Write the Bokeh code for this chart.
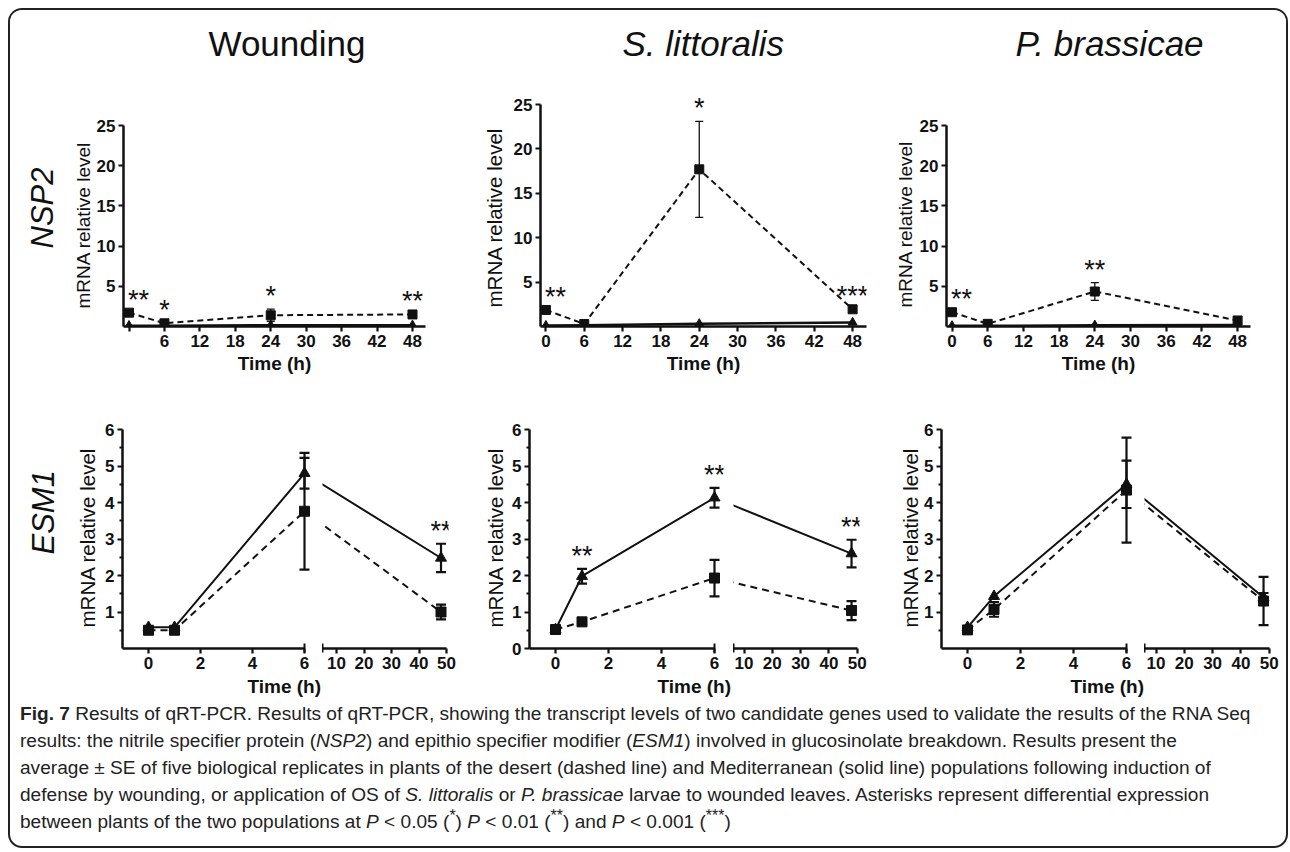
from bokeh.plotting import figure
from bokeh.models import (ColumnDataSource, Whisker, TeeHead, Label, FixedTicker, Range1d, Div, Title)
from bokeh.core.properties import value
from bokeh.layouts import row, column
from bokeh.embed import file_html
from bokeh.resources import INLINE

# ---------------- data ----------------
nsp2_time = [0, 6, 24, 48]
esm1_time = [0, 1, 6, 48]
nsp2_xticks = [0, 6, 12, 18, 24, 30, 36, 42, 48]
nsp2_yticks = [5, 10, 15, 20, 25]
esm1_left_ticks = [0, 2, 4, 6]
esm1_right_ticks = [10, 20, 30, 40, 50]
esm1_minor_y = [0.5, 1.5, 2.5, 3.5, 4.5, 5.5]

treatments = ["Wounding", "S. littoralis", "P. brassicae"]
treatment_styles = ["normal", "italic", "italic"]
genes = ["NSP2", "ESM1"]

# NSP2 - desert (dashed, squares) / Mediterranean (solid, triangles)
wound_nsp2_desert = [1.72, 0.40, 1.40, 1.50]
wound_nsp2_desert_se = [0.0, 0.0, 0.75, 0.0]
wound_nsp2_med = [0.10, 0.10, 0.15, 0.15]
wound_nsp2_sig = ["**", "*", "*", "**"]

slit_nsp2_desert = [1.86, 0.28, 17.7, 1.94]
slit_nsp2_desert_se = [0.0, 0.0, 5.4, 0.0]
slit_nsp2_med = [0.10, 0.15, 0.30, 0.45]
slit_nsp2_sig = ["**", "", "*", "***"]

pbra_nsp2_desert = [1.78, 0.33, 4.35, 0.75]
pbra_nsp2_desert_se = [0.0, 0.0, 1.1, 0.0]
pbra_nsp2_med = [0.08, 0.08, 0.15, 0.20]
pbra_nsp2_sig = ["**", "", "**", ""]

# ESM1
wound_esm1_desert = [0.50, 0.50, 3.76, 1.00]
wound_esm1_desert_se = [0.0, 0.0, 1.60, 0.20]
wound_esm1_med = [0.58, 0.58, 4.80, 2.48]
wound_esm1_med_se = [0.0, 0.0, 0.42, 0.39]
wound_esm1_sig = ["", "", "", "**"]

slit_esm1_desert = [0.52, 0.73, 1.93, 1.04]
slit_esm1_desert_se = [0.0, 0.10, 0.50, 0.26]
slit_esm1_med = [0.52, 1.98, 4.13, 2.60]
slit_esm1_med_se = [0.0, 0.20, 0.27, 0.38]
slit_esm1_sig = ["", "**", "**", "**"]

pbra_esm1_desert = [0.51, 1.07, 4.34, 1.30]
pbra_esm1_desert_se = [0.0, 0.20, 1.44, 0.66]
pbra_esm1_med = [0.58, 1.43, 4.50, 1.40]
pbra_esm1_med_se = [0.0, 0.0, 0.65, 0.12]
pbra_esm1_sig = ["", "", "", ""]

top_data = [
    (wound_nsp2_desert, wound_nsp2_desert_se, wound_nsp2_med, wound_nsp2_sig),
    (slit_nsp2_desert, slit_nsp2_desert_se, slit_nsp2_med, slit_nsp2_sig),
    (pbra_nsp2_desert, pbra_nsp2_desert_se, pbra_nsp2_med, pbra_nsp2_sig),
]
bot_data = [
    (wound_esm1_desert, wound_esm1_desert_se, wound_esm1_med, wound_esm1_med_se, wound_esm1_sig),
    (slit_esm1_desert, slit_esm1_desert_se, slit_esm1_med, slit_esm1_med_se, slit_esm1_sig),
    (pbra_esm1_desert, pbra_esm1_desert_se, pbra_esm1_med, pbra_esm1_med_se, pbra_esm1_sig),
]

# ---------------- layout geometry (page pixels) ----------------
FONT = "Liberation Sans"
INK = "#111111"
HEAD = (10, 75)
ROW1 = (75, 385)
ROW2 = (385, 708)
RIGHT = 1286
TICK_FS = "17px"

title_left = [208, 622, 1015]
title_mid = 43

top_ft, top_fb = 88, 326
top_geo = [
    dict(x0=10, x1=470, fl=123, fr=425, zero=128.5, u=5.906, y25=125, yls=19, ylso=0, ylo=18),
    dict(x0=470, x1=880, fl=540, fr=866, zero=545.4, u=6.39, y25=104, yls=20.5, ylso=9, ylo=19),
    dict(x0=880, x1=RIGHT, fl=946, fr=1250, zero=951.5, u=5.95, y25=125, yls=19, ylso=1, ylo=19),
]
bot_ft, bot_fb = 429, 648
bot_geo = [
    dict(x0=10, x1=470, ya=122, zero=148, u=26.0, le=314, rs=322, p10=336, v=2.75, re=448, zl=False, ylso=7, ylo=21, to=125),
    dict(x0=470, x1=880, ya=529, zero=555, u=26.5, le=723, rs=733, p10=743.5, v=2.83, re=859, zl=True, ylso=5, ylo=21, to=128),
    dict(x0=880, x1=RIGHT, ya=941, zero=967, u=26.5, le=1135, rs=1144, p10=1155.5, v=2.83, re=1272, zl=False, ylso=0, ylo=21, to=129),
]


def base_fig(w, h, ml, mr, mt, mb, xr, yr):
    p = figure(width=int(round(w)), height=int(round(h)), x_range=Range1d(*xr), y_range=Range1d(*yr),
               output_backend="svg", toolbar_location=None,
               min_border_left=int(round(ml)), min_border_right=int(round(mr)),
               min_border_top=int(round(mt)), min_border_bottom=int(round(mb)))
    p.outline_line_color = None
    p.xgrid.visible = False
    p.ygrid.visible = False
    p.background_fill_color = "white"
    p.border_fill_color = "white"
    return p


def style_axis(ax, ticks, minor=(), labels=None, minor_in=0, minor_out=3):
    ax.ticker = FixedTicker(ticks=list(ticks), minor_ticks=list(minor))
    ax.axis_line_color = INK
    ax.axis_line_width = 2.5
    ax.major_tick_line_color = INK
    ax.major_tick_line_width = 2.2
    ax.major_tick_in = 0
    ax.major_tick_out = 5
    ax.minor_tick_line_color = INK
    ax.minor_tick_line_width = 2
    ax.minor_tick_in = minor_in
    ax.minor_tick_out = minor_out
    ax.major_label_text_font = FONT
    ax.major_label_text_font_style = "bold"
    ax.major_label_text_font_size = TICK_FS
    ax.major_label_text_color = INK
    ax.major_label_standoff = 3
    if labels is not None:
        ax.major_label_overrides = labels


def side_title(p, side, text, size, style="normal", align="left", offset=0, standoff=0, valign="bottom"):
    p.add_layout(Title(text=text, text_font=FONT, text_font_size=f"{size}px", text_font_style=style,
                       text_color=INK, align=align, offset=offset, standoff=standoff,
                       vertical_align=valign), side)


def draw_series(p, xs, ys, se, dash, marker, size, lw, cap, elw):
    src = ColumnDataSource(dict(x=list(xs), y=list(ys)))
    p.line("x", "y", source=src, line_color=INK, line_width=lw, line_dash=dash)
    p.scatter("x", "y", source=src, marker=marker, size=size, color=INK)
    keep = [i for i, s in enumerate(se) if s > 0]
    if keep:
        wsrc = ColumnDataSource(dict(x=[xs[i] for i in keep],
                                     lo=[ys[i] - se[i] for i in keep],
                                     hi=[ys[i] + se[i] for i in keep]))
        p.add_layout(Whisker(base="x", upper="hi", lower="lo", source=wsrc,
                             line_color=INK, line_width=elw,
                             upper_head=TeeHead(size=cap, line_width=elw, line_color=INK),
                             lower_head=TeeHead(size=cap, line_width=elw, line_color=INK)))


def add_star(p, x, top, s, t):
    p.add_layout(Label(x=x, y=top, x_units="data", y_units="data", text=s, text_font=FONT,
                       text_font_size="27px", text_color=INK,
                       text_align="left" if t == 0 else "center", text_baseline="middle",
                       x_offset=-1 if t == 0 else 0, y_offset=13))


# ---------------- header strip with the three treatment titles ----------------
head = base_fig(RIGHT - 10, HEAD[1] - HEAD[0], 0, 0, 0, 0, (10, RIGHT), (HEAD[1], HEAD[0]))
head.axis.visible = False
head_src = ColumnDataSource(dict(x=title_left, y=[title_mid] * 3, t=treatments, st=treatment_styles))
head.text("x", "y", text="t", source=head_src, text_font=value(FONT), text_font_size="35px",
          text_font_style="st", text_color=INK, text_align="left", text_baseline="middle")

# ---------------- top row: NSP2 ----------------
top_figs = []
for i, g in enumerate(top_geo):
    desert, desert_se, med, sig = top_data[i]
    xr = ((g["fl"] - g["zero"]) / g["u"], (g["fr"] - g["zero"]) / g["u"])
    ytop = 25.0 * (top_fb - top_ft) / (top_fb - g["y25"])
    p = base_fig(g["x1"] - g["x0"], ROW1[1] - ROW1[0], g["fl"] - g["x0"], g["x1"] - g["fr"],
                 top_ft - ROW1[0], ROW1[1] - top_fb, xr, (0, ytop))
    style_axis(p.xaxis[0], nsp2_xticks, labels={0: ""} if i == 0 else None)
    style_axis(p.yaxis[0], nsp2_yticks)
    p.yaxis[0].bounds = (0, 25.001)
    p.xaxis[0].axis_label = "Time (h)"
    p.xaxis[0].axis_label_text_font = FONT
    p.xaxis[0].axis_label_text_font_style = "bold"
    p.xaxis[0].axis_label_text_font_size = "19px"
    p.xaxis[0].axis_label_text_color = INK
    p.xaxis[0].axis_label_standoff = 3
    zeros = [0.0] * len(med)
    draw_series(p, nsp2_time, desert, desert_se, "6 4", "square", 9, 2.0, 8, 1.3)
    draw_series(p, nsp2_time, med, zeros, "solid", "triangle", 9, 2.5, 8, 1.3)
    for t, s, a, b, c in zip(nsp2_time, sig, desert, desert_se, med):
        if s:
            add_star(p, t, max(a + b, c), s, t)
    side_title(p, "left", "mRNA relative level", g["yls"], offset=g["ylo"], standoff=g["ylso"])
    if i == 0:
        side_title(p, "left", genes[0], 31, "italic", offset=78, standoff=21)
    top_figs.append(p)

# ---------------- bottom row: ESM1 (broken x axis) ----------------
bot_figs = []
for i, g in enumerate(bot_geo):
    desert, desert_se, med, med_se, sig = bot_data[i]
    H = ROW2[1] - ROW2[0]
    mt = bot_ft - ROW2[0]
    mb = ROW2[1] - bot_fb
    xrL = ((g["ya"] - g["zero"]) / g["u"], (g["le"] - g["zero"]) / g["u"])
    xrR = (10 + (g["rs"] - g["p10"]) / g["v"], 10 + (g["re"] - g["p10"]) / g["v"])
    pL = base_fig(g["rs"] - g["x0"], H, g["ya"] - g["x0"], g["rs"] - g["le"], mt, mb, xrL, (0, 6))
    pR = base_fig(g["x1"] - g["rs"], H, 0, g["x1"] - g["re"], mt, mb, xrR, (0, 6))

    style_axis(pL.xaxis[0], esm1_left_ticks, minor=[6], minor_in=5, minor_out=4)
    pL.xaxis[0].bounds = (xrL[0], 6.001)
    yt = [0, 1, 2, 3, 4, 5, 6] if g["zl"] else [1, 2, 3, 4, 5, 6]
    style_axis(pL.yaxis[0], yt, minor=esm1_minor_y, minor_out=3)
    style_axis(pR.xaxis[0], esm1_right_ticks, minor=[xrR[0] + 0.05], minor_in=5, minor_out=4)
    pR.xaxis[0].bounds = (xrR[0], 50.05)
    pR.yaxis.visible = False

    # left segment: points up to 6 h
    idx = [k for k, t in enumerate(esm1_time) if t <= 6]
    tL = [esm1_time[k] for k in idx]
    draw_series(pL, tL, [desert[k] for k in idx], [desert_se[k] for k in idx], "7 5", "square", 10, 2.0, 10, 2.2)
    draw_series(pL, tL, [med[k] for k in idx], [med_se[k] for k in idx], "solid", "triangle", 11, 2.0, 10, 2.2)
    # right segment: the same series on the right-hand scale (early points fall inside the break)
    tR = [10 + (g["zero"] + t * g["u"] - g["p10"]) / g["v"] if t <= 6 else t for t in esm1_time]
    draw_series(pR, tR, desert, desert_se, "7 5", "square", 10, 2.0, 10, 2.2)
    draw_series(pR, tR, med, med_se, "solid", "triangle", 11, 2.0, 10, 2.2)

    for k, t in enumerate(esm1_time):
        if sig[k]:
            top = max(desert[k] + desert_se[k], med[k] + med_se[k])
            add_star(pL if t <= 6 else pR, t, top, sig[k], t)

    side_title(pL, "left", "mRNA relative level", 20.5, offset=g["ylo"], standoff=g["ylso"])
    if i == 0:
        side_title(pL, "left", genes[1], 31, "italic", offset=94, standoff=19)
    side_title(pL, "below", "Time (h)", 19, "bold", offset=g["to"], standoff=8, valign="top")
    bot_figs += [pL, pR]

caption_html = (
    "<div style='position:relative; top:-8px'>"
    "<b>Fig. 7</b> Results of qRT-PCR. Results of qRT-PCR, showing the transcript levels of two candidate genes used to validate the results of the RNA Seq<br>"
    "results: the nitrile specifier protein (<i>NSP2</i>) and epithio specifier modifier (<i>ESM1</i>) involved in glucosinolate breakdown. Results present the<br>"
    "average &plusmn; SE of five biological replicates in plants of the desert (dashed line) and Mediterranean (solid line) populations following induction of<br>"
    "defense by wounding, or application of OS of <i>S. littoralis</i> or <i>P. brassicae</i> larvae to wounded leaves. Asterisks represent differential expression<br>"
    "between plants of the two populations at <i>P</i> &lt; 0.05 (<sup style='line-height:0'>*</sup>) "
    "<i>P</i> &lt; 0.01 (<sup style='line-height:0'>**</sup>) and <i>P</i> &lt; 0.001 (<sup style='line-height:0'>***</sup>)"
    "</div>"
)
caption = Div(text=caption_html, width=RIGHT - 10, height=846 - ROW2[1], margin=0,
              styles={"font-family": "'Liberation Sans', Arial, sans-serif",
                      "font-size": "19.1px", "line-height": "27px", "color": "#222",
                      "padding-left": "10px", "white-space": "nowrap"})

layout = column(head, row(*top_figs, spacing=0), row(*bot_figs, spacing=0), caption, spacing=0,
                margin=(8, 0, 0, 8),
                styles={"border": "2px solid #222", "border-radius": "14px", "overflow": "hidden"})

open("out.html", "w").write(file_html(layout, INLINE))
